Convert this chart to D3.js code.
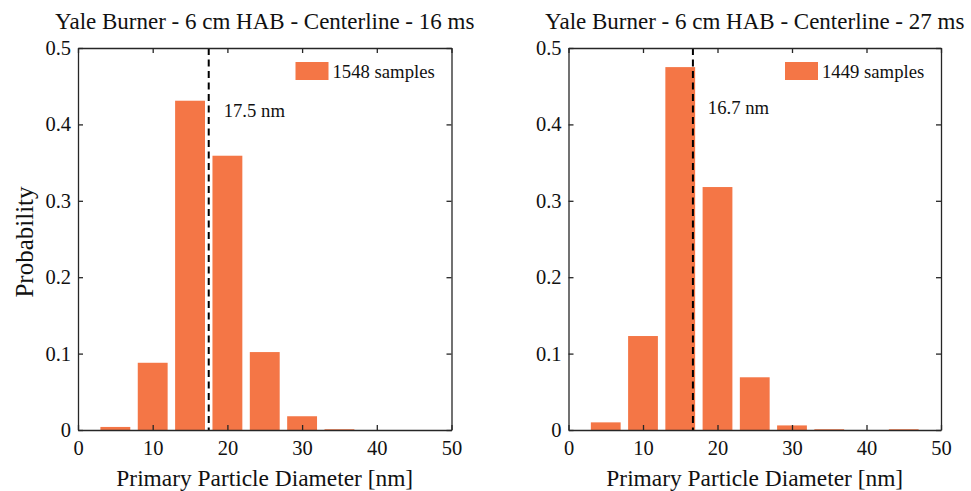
<!DOCTYPE html>
<html><head><meta charset="utf-8">
<script src="https://cdn.jsdelivr.net/npm/d3@7"></script>
<style>body{margin:0;background:#fff}svg{display:block}text{font-family:"Liberation Serif","Times New Roman",serif;fill:#111}</style>
</head><body>
<script>
const binCenters = [5, 10, 15, 20, 25, 30, 35, 40, 45];
const prob16ms = [0.004, 0.088, 0.431, 0.359, 0.102, 0.018, 0.001, 0, 0];
const prob27ms = [0.010, 0.123, 0.475, 0.318, 0.069, 0.006, 0.001, 0, 0.001];
const titles = ["Yale Burner - 6 cm HAB - Centerline - 16 ms", "Yale Burner - 6 cm HAB - Centerline - 27 ms"];
const meanDiam = [17.5, 16.7];
const meanLabels = ["17.5 nm", "16.7 nm"];
const legendLabels = ["1548 samples", "1449 samples"];
const xTicks = [0, 10, 20, 30, 40, 50];
const yTicks = [0, 0.1, 0.2, 0.3, 0.4, 0.5];
const binWidth = 4;

const W = 971, H = 491;
const svg = d3.select("body").append("svg").attr("width", W).attr("height", H);
const color = "#f47646";
const axisColor = "#262626";
const panels = [
  {left: 78, right: 451.5, data: prob16ms, annY: 0.41, ylabel: true},
  {left: 568.5, right: 941, data: prob27ms, annY: 0.413, ylabel: false}
];
const axTop = 48, axBottom = 430;

panels.forEach((p, i) => {
  const x = d3.scaleLinear().domain([0, 50]).range([p.left, p.right]);
  const y = d3.scaleLinear().domain([0, 0.5]).range([axBottom, axTop]);
  const g = svg.append("g");
  // bars
  g.selectAll("rect.bar").data(binCenters).enter().append("rect")
    .attr("x", d => x(d - binWidth / 2))
    .attr("width", d => x(d + binWidth / 2) - x(d - binWidth / 2))
    .attr("y", (d, k) => y(p.data[k]))
    .attr("height", (d, k) => y(0) - y(p.data[k]))
    .attr("fill", color);
  // dashed mean line
  g.append("line").attr("x1", x(meanDiam[i])).attr("x2", x(meanDiam[i]))
    .attr("y1", y(0.5)).attr("y2", y(0))
    .attr("stroke", "#000").attr("stroke-width", 2).attr("stroke-dasharray", "7,4.5");
  // axes
  const fs = "20.5px";
  const xb = g.append("g").attr("transform", `translate(0,${axBottom})`)
    .call(d3.axisBottom(x).tickValues(xTicks).tickSizeInner(-5).tickSizeOuter(0).tickPadding(10));
  const xt = g.append("g").attr("transform", `translate(0,${axTop})`)
    .call(d3.axisTop(x).tickValues(xTicks).tickSizeInner(-5).tickSizeOuter(0).tickFormat(""));
  const yl = g.append("g").attr("transform", `translate(${p.left},0)`)
    .call(d3.axisLeft(y).tickValues(yTicks).tickSizeInner(-5).tickSizeOuter(0).tickPadding(7).tickFormat(d => d === 0 ? "0" : d3.format(".1f")(d)));
  const yr = g.append("g").attr("transform", `translate(${p.right},0)`)
    .call(d3.axisRight(y).tickValues(yTicks).tickSizeInner(-5).tickSizeOuter(0).tickFormat(""));
  [xb, xt, yl, yr].forEach(a => {
    a.selectAll("path").attr("stroke", axisColor).attr("stroke-width", 1.3);
    a.selectAll("line").attr("stroke", axisColor).attr("stroke-width", 1.3);
    a.selectAll("text").style("font-family", '"Liberation Serif",serif').style("font-size", fs).attr("fill", "#111");
  });
  xb.selectAll("text").attr("dy", null).attr("y", 25);
  // title
  g.append("text").attr("x", (p.left + p.right) / 2).attr("y", 29)
    .attr("text-anchor", "middle").style("font-size", "23px").text(titles[i]);
  // x label
  g.append("text").attr("x", (p.left + p.right) / 2).attr("y", 486)
    .attr("text-anchor", "middle").style("font-size", "23.4px").text("Primary Particle Diameter [nm]");
  if (p.ylabel) {
    g.append("text").attr("transform", `translate(33,242) rotate(-90)`)
      .attr("text-anchor", "middle").style("font-size", "25px").text("Probability");
  }
  // annotation
  g.append("text").attr("x", x(meanDiam[i] + 2)).attr("y", y(p.annY))
    .style("font-size", "18.7px").text(meanLabels[i]);
  // legend
  const lx = p.right - 156;
  g.append("rect").attr("x", lx).attr("y", 62).attr("width", 33).attr("height", 18).attr("fill", color);
  g.append("text").attr("x", lx + 37).attr("y", 78).style("font-size", "18.7px").text(legendLabels[i]);
});
</script>
</body></html>
